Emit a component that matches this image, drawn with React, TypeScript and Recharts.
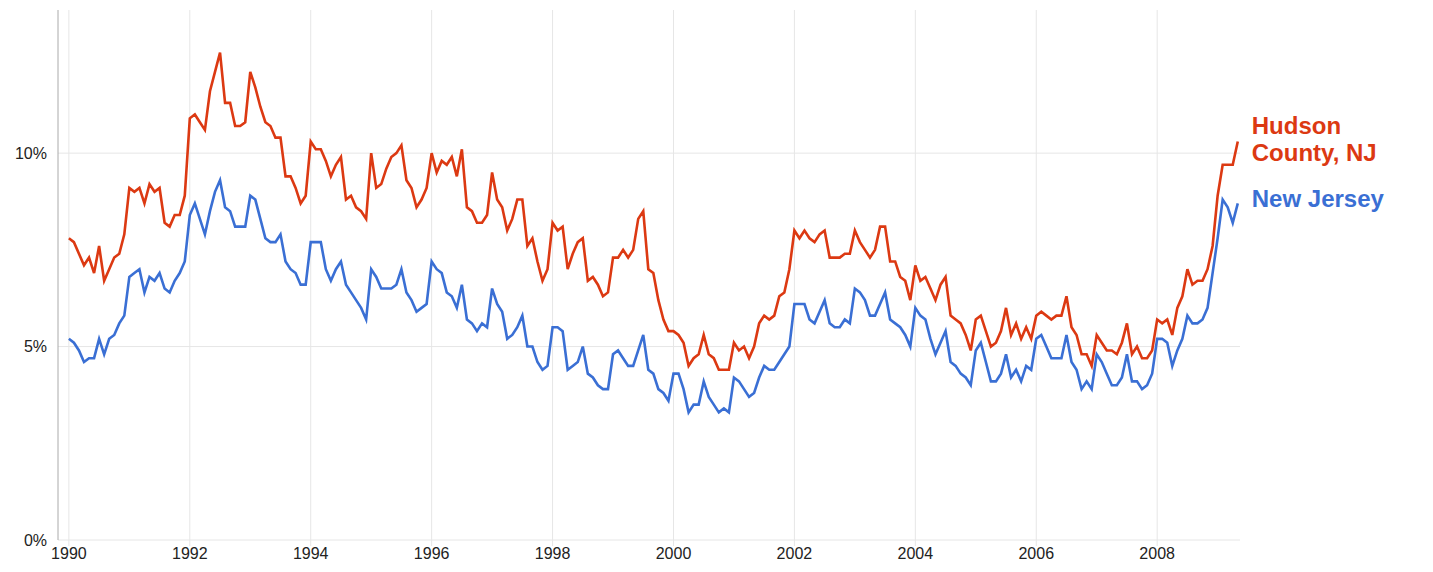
import { LineChart, Line, XAxis, YAxis, CartesianGrid } from "recharts"

// monthly unemployment rate (%), Jan 1990 .. May 2009
const hudson = [
  7.8, 7.7, 7.4, 7.1, 7.3, 6.9, 7.6, 6.7, 7.0, 7.3, 7.4, 7.9, 9.1, 9.0, 9.1, 8.7, 9.2, 9.0, 9.1,
  8.2, 8.1, 8.4, 8.4, 8.9, 10.9, 11.0, 10.8, 10.6, 11.6, 12.1, 12.6, 11.3, 11.3, 10.7, 10.7, 10.8, 12.1, 11.7,
  11.2, 10.8, 10.7, 10.4, 10.4, 9.4, 9.4, 9.1, 8.7, 8.9, 10.3, 10.1, 10.1, 9.8, 9.4, 9.7, 9.9, 8.8, 8.9, 8.6,
  8.5, 8.3, 10.0, 9.1, 9.2, 9.6, 9.9, 10.0, 10.2, 9.3, 9.1, 8.6, 8.8, 9.1, 10.0, 9.5, 9.8, 9.7, 9.9, 9.4,
  10.1, 8.6, 8.5, 8.2, 8.2, 8.4, 9.5, 8.8, 8.6, 8.0, 8.3, 8.8, 8.8, 7.6, 7.8, 7.2, 6.7, 7.0, 8.2, 8.0,
  8.1, 7.0, 7.4, 7.7, 7.8, 6.7, 6.8, 6.6, 6.3, 6.4, 7.3, 7.3, 7.5, 7.3, 7.5, 8.3, 8.5, 7.0, 6.9, 6.2,
  5.7, 5.4, 5.4, 5.3, 5.1, 4.5, 4.7, 4.8, 5.3, 4.8, 4.7, 4.4, 4.4, 4.4, 5.1, 4.9, 5.0, 4.7, 5.0, 5.6,
  5.8, 5.7, 5.8, 6.3, 6.4, 7.0, 8.0, 7.8, 8.0, 7.8, 7.7, 7.9, 8.0, 7.3, 7.3, 7.3, 7.4, 7.4, 8.0, 7.7,
  7.5, 7.3, 7.5, 8.1, 8.1, 7.2, 7.2, 6.8, 6.7, 6.2, 7.1, 6.7, 6.8, 6.5, 6.2, 6.6, 6.8, 5.8, 5.7,
  5.6, 5.3, 4.9, 5.7, 5.8, 5.4, 5.0, 5.1, 5.4, 6.0, 5.3, 5.6, 5.2, 5.5, 5.2, 5.8, 5.9, 5.8, 5.7, 5.8,
  5.8, 6.3, 5.5, 5.3, 4.8, 4.8, 4.5, 5.3, 5.1, 4.9, 4.9, 4.8, 5.1, 5.6, 4.8, 5.0, 4.7, 4.7, 4.9, 5.7,
  5.6, 5.7, 5.3, 6.0, 6.3, 7.0, 6.6, 6.7, 6.7, 7.0, 7.6, 8.9, 9.7, 9.7, 9.7, 10.3,
]

const newJersey = [
  5.2, 5.1, 4.9, 4.6, 4.7, 4.7, 5.2, 4.8, 5.2, 5.3, 5.6, 5.8, 6.8, 6.9, 7.0, 6.4, 6.8, 6.7, 6.9,
  6.5, 6.4, 6.7, 6.9, 7.2, 8.4, 8.7, 8.3, 7.9, 8.5, 9.0, 9.3, 8.6, 8.5, 8.1, 8.1, 8.1, 8.9, 8.8,
  8.3, 7.8, 7.7, 7.7, 7.9, 7.2, 7.0, 6.9, 6.6, 6.6, 7.7, 7.7, 7.7, 7.0, 6.7, 7.0, 7.2, 6.6, 6.4, 6.2,
  6.0, 5.7, 7.0, 6.8, 6.5, 6.5, 6.5, 6.6, 7.0, 6.4, 6.2, 5.9, 6.0, 6.1, 7.2, 7.0, 6.9, 6.4, 6.3, 6.0,
  6.6, 5.7, 5.6, 5.4, 5.6, 5.5, 6.5, 6.1, 5.9, 5.2, 5.3, 5.5, 5.8, 5.0, 5.0, 4.6, 4.4, 4.5, 5.5, 5.5,
  5.4, 4.4, 4.5, 4.6, 5.0, 4.3, 4.2, 4.0, 3.9, 3.9, 4.8, 4.9, 4.7, 4.5, 4.5, 4.9, 5.3, 4.4, 4.3, 3.9,
  3.8, 3.6, 4.3, 4.3, 3.9, 3.3, 3.5, 3.5, 4.1, 3.7, 3.5, 3.3, 3.4, 3.3, 4.2, 4.1, 3.9, 3.7, 3.8, 4.2,
  4.5, 4.4, 4.4, 4.6, 4.8, 5.0, 6.1, 6.1, 6.1, 5.7, 5.6, 5.9, 6.2, 5.6, 5.5, 5.5, 5.7, 5.6, 6.5, 6.4,
  6.2, 5.8, 5.8, 6.1, 6.4, 5.7, 5.6, 5.5, 5.3, 5.0, 6.0, 5.8, 5.7, 5.2, 4.8, 5.1, 5.4, 4.6, 4.5,
  4.3, 4.2, 4.0, 4.9, 5.1, 4.6, 4.1, 4.1, 4.3, 4.8, 4.2, 4.4, 4.1, 4.5, 4.4, 5.2, 5.3, 5.0, 4.7, 4.7,
  4.7, 5.3, 4.6, 4.4, 3.9, 4.1, 3.9, 4.8, 4.6, 4.3, 4.0, 4.0, 4.2, 4.8, 4.1, 4.1, 3.9, 4.0, 4.3, 5.2,
  5.2, 5.1, 4.5, 4.9, 5.2, 5.8, 5.6, 5.6, 5.7, 6.0, 6.9, 7.8, 8.8, 8.6, 8.2, 8.7,
]

const startYear = 1990
const yearTicks = [1990, 1992, 1994, 1996, 1998, 2000, 2002, 2004, 2006, 2008]
const pctTicks = [0, 5, 10]
const xDomain = [1989.82, 2009.37]
const yDomain = [0, 13.7]

const RED = "#dc3912"
const BLUE = "#3a6fd4"
const FONT = "'Liberation Sans', Arial, sans-serif"

const data = hudson.map((h, i) => ({
  t: startYear + i / 12,
  hudson: h,
  nj: newJersey[i],
}))

const last = data.length - 1

// name written at the end of each line
const endLabel = (lines: string[], color: string, offsets: number[]) => (props: any) => {
  const { x, y, index } = props
  if (index !== last) return null
  return (
    <text x={x + 14} y={y} fill={color} fontFamily={FONT} fontSize={24} fontWeight="bold">
      {lines.map((l, k) => (
        <tspan key={k} x={x + 14} y={y + offsets[k]}>
          {l}
        </tspan>
      ))}
    </text>
  )
}

// only grid lines at the ticks, no border lines at the plot edges
const hLines = ({ offset }: any) =>
  pctTicks.map((v) => offset.top + offset.height * (1 - (v - yDomain[0]) / (yDomain[1] - yDomain[0])))
const vLines = ({ offset }: any) =>
  yearTicks.map((v) => offset.left + (offset.width * (v - xDomain[0])) / (xDomain[1] - xDomain[0]))

export default function App() {
  return (
    <div style={{ position: "absolute", left: 0, top: 0, background: "#fff" }}>
      <LineChart
        width={1433}
        height={572}
        data={data}
        margin={{ top: 10, right: 193, bottom: 2, left: 0 }}
      >
        <CartesianGrid
          stroke="#e6e6e6"
          strokeWidth={1}
          horizontalCoordinatesGenerator={hLines}
          verticalCoordinatesGenerator={vLines}
        />
        <XAxis
          dataKey="t"
          type="number"
          domain={xDomain}
          ticks={yearTicks}
          axisLine={false}
          tickLine={{ stroke: "#e6e6e6" }}
          tick={{ fill: "#222", fontSize: 16, fontFamily: FONT }}
          allowDataOverflow
        />
        <YAxis
          type="number"
          domain={yDomain}
          ticks={pctTicks}
          width={58}
          tickFormatter={(v) => `${v}%`}
          axisLine={{ stroke: "#aaa" }}
          tickLine={false}
          tickMargin={5}
          tick={{ fill: "#222", fontSize: 16, fontFamily: FONT }}
        />
        <Line
          dataKey="nj"
          stroke={BLUE}
          strokeWidth={2.6}
          dot={false}
          isAnimationActive={false}
          label={endLabel(["New Jersey"], BLUE, [4])}
        />
        <Line
          dataKey="hudson"
          stroke={RED}
          strokeWidth={2.6}
          dot={false}
          isAnimationActive={false}
          label={endLabel(["Hudson", "County, NJ"], RED, [-8, 19])}
        />
      </LineChart>
    </div>
  )
}
